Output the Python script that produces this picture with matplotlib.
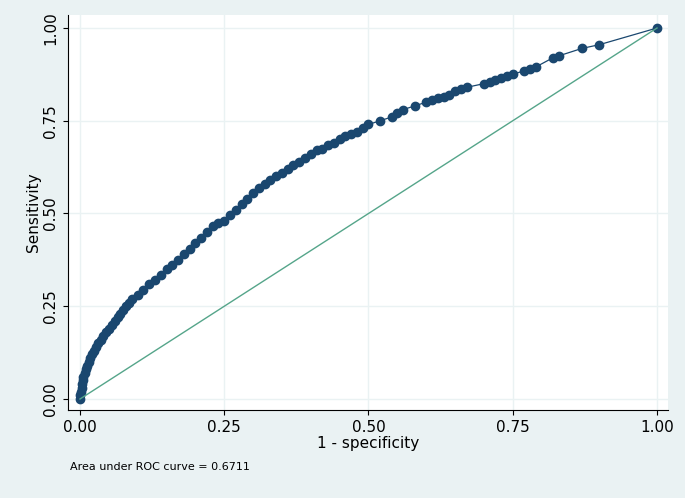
import matplotlib
matplotlib.use("Agg")
import matplotlib.pyplot as plt

fpr = [0.0,0.0,0.002,0.003,0.004,0.005,0.006,0.008,0.01,0.012,0.015,0.018,0.02,0.024,0.028,0.032,0.036,0.04,0.045,0.05,0.055,0.06,0.065,0.07,0.075,0.08,0.085,0.09,0.1,0.11,0.12,0.13,0.14,0.15,0.16,0.17,0.18,0.19,0.2,0.21,0.22,0.23,0.24,0.25,0.26,0.27,0.28,0.29,0.3,0.31,0.32,0.33,0.34,0.35,0.36,0.37,0.38,0.39,0.4,0.41,0.42,0.43,0.44,0.45,0.46,0.47,0.48,0.49,0.5,0.52,0.54,0.55,0.56,0.58,0.6,0.61,0.62,0.63,0.64,0.65,0.66,0.67,0.7,0.71,0.72,0.73,0.74,0.75,0.77,0.78,0.79,0.82,0.83,0.87,0.9,1.0]
tpr = [0.0,0.01,0.02,0.03,0.04,0.05,0.06,0.07,0.08,0.09,0.10,0.11,0.12,0.13,0.14,0.15,0.16,0.17,0.18,0.19,0.20,0.21,0.22,0.23,0.24,0.25,0.26,0.27,0.28,0.295,0.31,0.32,0.335,0.35,0.36,0.375,0.39,0.405,0.42,0.435,0.45,0.465,0.475,0.48,0.495,0.51,0.525,0.54,0.555,0.57,0.58,0.59,0.60,0.61,0.62,0.63,0.64,0.65,0.66,0.67,0.675,0.685,0.69,0.70,0.71,0.715,0.72,0.73,0.74,0.75,0.76,0.77,0.78,0.79,0.80,0.805,0.81,0.815,0.82,0.83,0.835,0.84,0.85,0.855,0.86,0.865,0.87,0.875,0.885,0.89,0.895,0.92,0.925,0.945,0.955,1.0]
xticks = [0.0,0.25,0.5,0.75,1.0]
yticks = [0.0,0.25,0.5,0.75,1.0]

fig = plt.figure(figsize=(6.85,4.98), dpi=100)
fig.patch.set_facecolor("#eaf2f3")
ax = fig.add_axes([68/685, 88/498, 600/685, 395/498])
ax.set_facecolor("white")
ax.plot(fpr, tpr, "-o", color="#1a476f", ms=6, lw=0.9)
ax.plot([0,1],[0,1], color="#55a58a", lw=1)
ax.set_xlim(-12/577, 1+11/577)
ax.set_ylim(-11/371, 1+13/371)
ax.set_xticks(xticks); ax.set_yticks(yticks)
ax.set_xticklabels([f"{v:.2f}" for v in xticks], fontsize=11)
ax.set_yticklabels([f"{v:.2f}" for v in yticks], fontsize=11, rotation=90, va="center")
ax.grid(True, color="#eaf2f3", lw=1)
for s in ax.spines.values(): s.set_visible(False)
ax.spines["left"].set_visible(True); ax.spines["bottom"].set_visible(True)
ax.spines["left"].set_color("black"); ax.spines["bottom"].set_color("black")
ax.set_xlabel("1 - specificity", fontsize=11, labelpad=1)
ax.set_ylabel("Sensitivity", fontsize=11, labelpad=2)
ax.set_axisbelow(True)
fig.text(70/685, 1-467/498, "Area under ROC curve = 0.6711", fontsize=8, va="center")
fig.savefig("out.png", dpi=100, facecolor=fig.get_facecolor())
